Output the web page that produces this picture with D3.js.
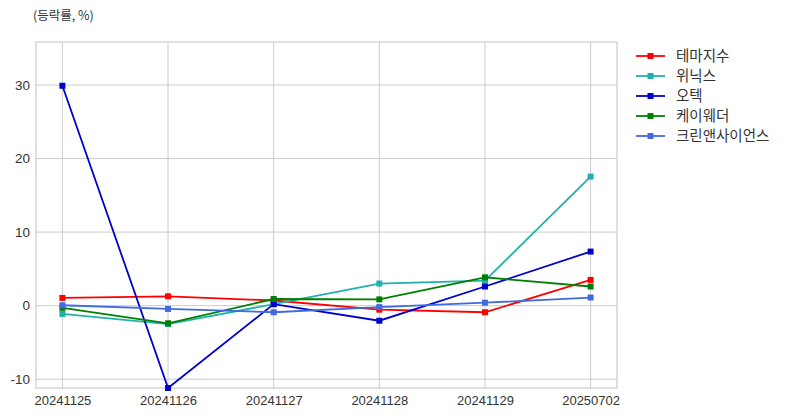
<!DOCTYPE html>
<html><head><meta charset="utf-8">
<script src="https://cdn.jsdelivr.net/npm/d3@7"></script>
<style>body{margin:0;background:#fff;}svg{display:block;font-family:"Noto Sans CJK KR","Noto Sans",sans-serif;}</style>
</head><body><svg id="c" width="787" height="416"></svg>
<script>
const dates = ["20241125","20241126","20241127","20241128","20241129","20250702"];
const seriesNames = ["테마지수","위닉스","오텍","케이웨더","크린앤사이언스"];
const seriesColors = ["#ff0000","#20b2aa","#0000cd","#008000","#4169e1"];
const themeIdx = [1.05, 1.27, 0.7, -0.55, -0.9, 3.5];
const winix = [-1.13, -2.5, 0.2, 3.0, 3.4, 17.55];
const otek = [29.9, -11.2, 0.2, -2.05, 2.6, 7.35];
const kweather = [-0.3, -2.4, 0.9, 0.85, 3.85, 2.6];
const clean = [0.05, -0.45, -0.9, -0.2, 0.4, 1.1];
const yTicks = [-10, 0, 10, 20, 30];
const yLabel = "(등락률, %)";
const allSeries = [themeIdx, winix, otek, kweather, clean];

const svg = d3.select("#c");
const L = 36, R = 617, T = 42, B = 388;
const x = d3.scaleLinear().domain([-0.25, dates.length - 0.75]).range([L, R]);
const y = d3.scaleLinear().domain([-11.2, 35.85]).range([B, T]);

// grid
const g = svg.append("g");
g.selectAll(".gx").data(dates).join("line")
  .attr("x1", (d,i)=>x(i)).attr("x2",(d,i)=>x(i)).attr("y1",T).attr("y2",B)
  .attr("stroke","#cccccc").attr("stroke-width",1);
g.selectAll(".gy").data(yTicks).join("line")
  .attr("x1",L).attr("x2",R).attr("y1",d=>y(d)).attr("y2",d=>y(d))
  .attr("stroke","#cccccc").attr("stroke-width",1);

// axes
const xAxis = d3.axisBottom(x).tickValues(d3.range(dates.length)).tickFormat(i=>dates[i]).tickSize(0).tickPadding(8);
const gx = svg.append("g").attr("transform",`translate(0,${B})`).call(xAxis);
gx.select(".domain").remove();
gx.selectAll("text").attr("font-size",13).attr("fill","#333");
const yAxis = d3.axisLeft(y).tickValues(yTicks).tickFormat(d=>String(d)).tickSize(0).tickPadding(6);
const gy = svg.append("g").attr("transform",`translate(${L},0)`).call(yAxis);
gy.select(".domain").remove();
gy.selectAll("text").attr("font-size",13.5).attr("fill","#333");

svg.append("rect").attr("x",L).attr("y",T).attr("width",R-L).attr("height",B-T)
  .attr("fill","none").attr("stroke","#cccccc").attr("stroke-width",1.2);

svg.append("text").attr("x",33).attr("y",20).attr("font-size",12.5).attr("fill","#333").text(yLabel);

// lines
const line = d3.line().x((d,i)=>x(i)).y(d=>y(d));
allSeries.forEach((s,k)=>{
  svg.append("path").datum(s).attr("d",line).attr("fill","none")
    .attr("stroke",seriesColors[k]).attr("stroke-width",1.8);
  svg.selectAll(null).data(s).join("rect")
    .attr("x",(d,i)=>x(i)-3).attr("y",d=>y(d)-3).attr("width",6).attr("height",6)
    .attr("fill",seriesColors[k]);
});

// legend
const lg = svg.append("g");
seriesNames.forEach((n,k)=>{
  const yy = 56 + k*20;
  lg.append("line").attr("x1",636).attr("x2",665).attr("y1",yy).attr("y2",yy)
    .attr("stroke",seriesColors[k]).attr("stroke-width",1.8);
  lg.append("rect").attr("x",647.5).attr("y",yy-3).attr("width",6).attr("height",6).attr("fill",seriesColors[k]);
  lg.append("text").attr("x",676).attr("y",yy+5).attr("font-size",14.5).attr("fill","#333").text(n);
});
</script></body></html>
